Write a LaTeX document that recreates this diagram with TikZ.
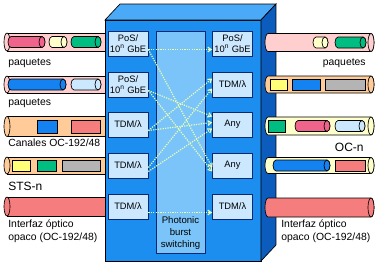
\documentclass[tikz,border=0pt]{standalone}
\usepackage{fontspec}
\setmainfont{Liberation Sans}
\usetikzlibrary{arrows.meta, calc, positioning}
\definecolor{azulfrente}{RGB}{28,142,240}
\definecolor{azultapa}{RGB}{75,170,248}
\definecolor{azullado}{RGB}{12,92,190}
\definecolor{azulpanel}{RGB}{122,196,250}
\definecolor{azulcaja}{RGB}{204,232,255}
\definecolor{bordecaja}{RGB}{10,40,110}
\definecolor{rosaclaro}{RGB}{255,206,206}
\definecolor{rosa}{RGB}{240,100,140}
\definecolor{amarilloclaro}{RGB}{255,255,204}
\definecolor{amarillo}{RGB}{255,255,120}
\definecolor{verde}{RGB}{0,190,130}
\definecolor{azul}{RGB}{20,130,240}
\definecolor{celeste}{RGB}{204,232,255}
\definecolor{melocoton}{RGB}{255,204,153}
\definecolor{salmon}{RGB}{245,125,125}
\definecolor{gris}{RGB}{180,180,180}
\definecolor{lineaclara}{RGB}{235,255,175}
\tikzset{
    caja/.style={draw=bordecaja, fill=azulcaja, minimum width=30pt, minimum height=18.75pt,
        inner sep=0pt, align=center, font=\fontsize{7}{8.5}\selectfont},
    panel/.style={draw=bordecaja, fill=azulpanel, minimum width=36.75pt, minimum height=166.5pt, inner sep=0pt},
    enlace/.style={line width=1.5pt, draw=black},
    ruta/.style={draw=lineaclara, line width=0.9pt, dash pattern=on 0.9pt off 0.9pt,
        -{Straight Barb[length=2.5pt,width=3.5pt]}},
    etiqueta/.style={anchor=west, inner sep=0pt, align=left, font=\fontsize{7.8}{9.75}\selectfont},
    grande/.style={font=\fontsize{9}{10}\selectfont},
}
% tubo con la tapa a la derecha: x1, x2, y, radio, color
\newcommand{\tubod}[5]{%
  \draw[fill=#5] (#2,#3-#4) -- (#1+3,#3-#4) arc[start angle=-90,end angle=-270,x radius=3,y radius=#4]
    -- (#2,#3+#4) arc[start angle=90,end angle=-90,x radius=3,y radius=#4] -- cycle;
  \draw[fill=#5] (#2,#3) ellipse[x radius=3,y radius=#4];
}
% tubo con la tapa a la izquierda
\newcommand{\tuboi}[5]{%
  \draw[fill=#5] (#1,#3-#4) rectangle (#2,#3+#4);
  \draw[fill=#5] (#1,#3) ellipse[x radius=3,y radius=#4];
}

\begin{document}
\begin{tikzpicture}[x=0.75pt, y=-0.75pt, line width=0.5pt]
\useasboundingbox (0,0) rectangle (380,265);
% fibras de la izquierda
\tuboi{7}{106}{42}{9}{rosaclaro}
\tubod{8}{42}{42}{5.5}{rosa}
\tubod{49}{64}{42}{5.5}{amarilloclaro}
\tubod{71}{98}{42}{5.5}{verde}
\tuboi{7}{106}{84.5}{8.5}{rosaclaro}
\tubod{8}{63}{84.5}{5.5}{azul}
\tubod{71}{98}{84.5}{5.5}{celeste}
\tuboi{7}{106}{126.5}{10}{melocoton}
\draw[fill=azul] (37,120) rectangle (57,133);
\draw[fill=salmon] (71,120) rectangle (100,133);
\tuboi{7}{106}{165.5}{8.5}{melocoton}
\draw[fill=amarillo] (12,160) rectangle (30,171);
\draw[fill=verde] (37,160) rectangle (56,171);
\draw[fill=gris] (62,160) rectangle (100,171);
\tuboi{7}{106}{206.5}{9.5}{salmon}
% caja
\draw[fill=azulfrente] (105,20) rectangle (261,261);
\draw[fill=azultapa] (105,20) -- (120,4) -- (276,4) -- (261,20) -- cycle;
\draw[fill=azullado] (261,20) -- (276,4) -- (276,245) -- (261,261) -- cycle;
% fibras de la derecha
\tubod{265}{371}{42.5}{9}{rosaclaro}
\tubod{313}{325}{42.5}{5.5}{amarilloclaro}
\tubod{335}{363}{42.5}{5.5}{verde}
\tubod{265}{371}{84.5}{8.5}{melocoton}
\draw[fill=amarillo] (270,79) rectangle (287,90);
\draw[fill=azul] (292,79) rectangle (320,90);
\draw[fill=gris] (325,79) rectangle (365,90);
\tubod{265}{371}{126}{9}{amarilloclaro}
\draw[fill=verde] (268,120) rectangle (285,132);
\tubod{295}{327}{126}{5.5}{rosa}
\tubod{335}{362}{126}{5.5}{celeste}
\tubod{265}{371}{165.5}{8}{amarilloclaro}
\tubod{273}{327}{165.5}{5.5}{azul}
\draw[fill=salmon] (335,160) rectangle (365,171);
\tubod{265}{371}{207.5}{9.5}{salmon}
% conmutador
\node[panel] (pbs) at (180.5,142) {};
\node[anchor=south, align=center, inner sep=0pt, font=\fontsize{7.2}{8.7}\selectfont] (ptxt)
    at ($(pbs.south)+(0,-4)$) {Photonic\\burst\\switching};
\node[caja] (l1) at (128,43.5) {PoS/\\10\textsuperscript{n} GbE};
\node[caja] (l2) at (128,84.5) {PoS/\\10\textsuperscript{n} GbE};
\node[caja] (l3) at (128,124.5) {TDM/λ};
\node[caja] (l4) at (128,165.5) {TDM/λ};
\node[caja] (l5) at (128,206.5) {TDM/λ};
\node[caja] (r1) at (232.5,43.5) {PoS/\\10\textsuperscript{n} GbE};
\node[caja] (r2) at (232.5,84.5) {TDM/λ};
\node[caja] (r3) at (232.5,124.5) {Any};
\node[caja] (r4) at (232.5,165.5) {Any};
\node[caja] (r5) at (232.5,206.5) {TDM/λ};
\foreach \n in {1,...,5} {
    \draw[enlace] ($(l\n.east)+(0,-2)$) -- ($(l\n.east)+(0,-2)$ -| pbs.west);
    \draw[enlace] ($(r\n.west)+(0,-2)$) -- ($(r\n.west)+(0,-2)$ -| pbs.east);
}
% rutas
\draw[ruta] ($(l1.east)+(0,6)$) -- ($(r1.west)+(0,6)$);
\draw[ruta] ($(l1.east)+(0,6)$) -- ($(r4.west)+(0,2)$);
\draw[ruta] ($(l2.east)+(0,6)$) -- ($(r3.west)+(0,-8)$);
\draw[ruta] ($(l2.east)+(0,6)$) -- ($(r4.west)+(0,6)$);
\draw[ruta] ($(l3.east)+(0,6)$) -- ($(r2.west)+(0,-6)$);
\draw[ruta] ($(l3.east)+(0,6)$) -- ($(r3.west)+(0,-2)$);
\draw[ruta] ($(l4.east)+(0,2)$) -- ($(r2.west)+(0,4)$);
\draw[ruta] ($(l4.east)+(0,6)$) -- ($(r3.west)+(0,4)$);
\draw[ruta] ($(l5.east)+(0,6)$) -- ($(r5.west)+(0,6)$);
% etiquetas
\node[etiqueta] (tpaq1) at (8,63) {paquetes};
\node[etiqueta] (tpaq2) at (8,103) {paquetes};
\node[etiqueta] (tcan) at (8,143) {Canales OC-192/48};
\node[etiqueta, grande] (tsts) at (8,186) {STS-n};
\node[etiqueta] (tint) at (8,231.5) {Interfaz óptico\\opaco (OC-192/48)};
\node[etiqueta, anchor=east] (dpaq) at (366,63) {paquetes};
\node[etiqueta, anchor=east, grande] (doc) at (364,147) {OC-n};
\node[etiqueta] (dint) at (281,231.5) {Interfaz óptico\\opaco (OC-192/48)};
\end{tikzpicture}
\end{document}
